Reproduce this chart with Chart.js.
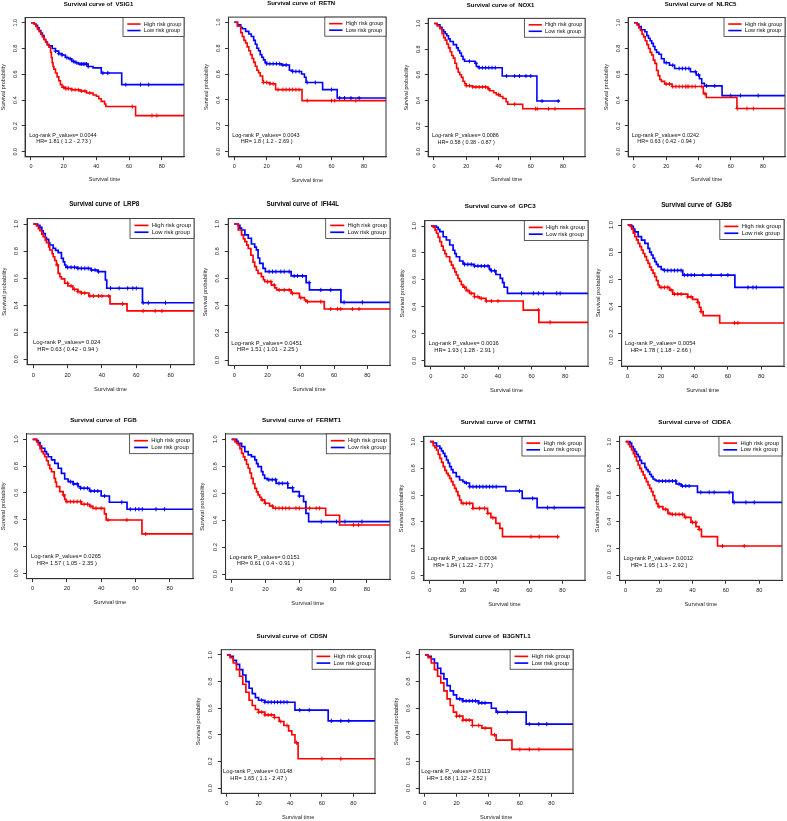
<!DOCTYPE html>
<html>
<head>
<meta charset="utf-8">
<script src="https://cdn.jsdelivr.net/npm/chart.js@4.4.1/dist/chart.umd.min.js"></script>
<style>
  body { margin: 0; background: #fff; width: 787px; height: 821px; position: relative; overflow: hidden; }
  canvas { position: absolute; }
</style>
</head>
<body>
<script>
// ---- data ----
const genes = ['VSIG1', 'RETN', 'NOX1', 'NLRC5', 'LRP8', 'IFI44L', 'GPC3', 'GJB6',
  'FGB', 'FERMT1', 'CMTM1', 'CIDEA', 'CDSN', 'B3GNTL1'];
const pValues = [0.0044, 0.0043, 0.0086, 0.0242, 0.024, 0.0451, 0.0016, 0.0054,
  0.0265, 0.0151, 0.0034, 0.0012, 0.0148, 0.0113];
const hazardRatio = [1.81, 1.8, 0.58, 0.63, 0.63, 1.51, 1.93, 1.78, 1.57, 0.61, 1.84, 1.95, 1.65, 1.68];
const hrLower = [1.2, 1.2, 0.38, 0.42, 0.42, 1.01, 1.28, 1.18, 1.05, 0.4, 1.22, 1.3, 1.1, 1.12];
const hrUpper = [2.73, 2.69, 0.87, 0.94, 0.94, 2.25, 2.91, 2.66, 2.35, 0.91, 2.77, 2.92, 2.47, 2.52];
const groupLabels = ['High risk group', 'Low risk group'];
const xTicks = [0, 20, 40, 60, 80];
const yTicks = [0, 0.2, 0.4, 0.6, 0.8, 1.0];

// Kaplan-Meier steps, [time, survival after that time]
const highRisk = [
  [[0,1],[2,0.99],[3,0.97],[4,0.95],[5,0.93],[6,0.91],[7,0.89],[8,0.87],[9,0.85],[10,0.83],[11,0.81],[12,0.77],[12.5,0.73],[13,0.69],[13.5,0.66],[14,0.64],[15,0.61],[16,0.58],[17,0.55],[18,0.52],[19,0.5],[21,0.49],[25,0.48],[30,0.47],[34,0.455],[38,0.44],[40,0.43],[41.5,0.41],[43,0.39],[45,0.37],[45.8,0.35],[64,0.28],[93.6,0.28]],
  [[0,1],[2,0.97],[4,0.92],[5,0.89],[6,0.86],[7,0.84],[8,0.81],[9,0.78],[10,0.75],[11,0.72],[12,0.69],[13,0.66],[14,0.63],[15,0.61],[16,0.585],[17.5,0.55],[18,0.535],[22,0.525],[25.5,0.48],[41.8,0.395],[93.6,0.395]],
  [[0,1],[2,0.98],[3.7,0.96],[5,0.92],[6,0.89],[7,0.87],[8,0.84],[9,0.81],[10,0.78],[11,0.75],[12,0.73],[13,0.69],[14,0.65],[15,0.62],[16,0.6],[17,0.58],[18,0.55],[19,0.53],[20,0.515],[24,0.505],[33.5,0.49],[34.5,0.475],[37,0.46],[38.6,0.445],[41,0.43],[42.7,0.415],[44.7,0.39],[45.7,0.37],[55,0.335],[93.6,0.335]],
  [[0,1],[2,0.98],[3,0.96],[4,0.94],[5,0.91],[6,0.89],[7,0.86],[8,0.83],[9,0.8],[10,0.77],[11,0.75],[12,0.71],[13,0.685],[14,0.63],[15,0.59],[16,0.56],[17,0.545],[19,0.525],[23.6,0.505],[43,0.45],[44.8,0.42],[63.8,0.335],[93.6,0.335]],
  [[0,1],[1.9,0.985],[3,0.965],[3.9,0.95],[5,0.925],[5.8,0.906],[7,0.88],[7.7,0.862],[9,0.83],[9.6,0.808],[11,0.78],[11.6,0.758],[12.5,0.73],[13.5,0.697],[14.5,0.635],[15.5,0.61],[16.4,0.594],[18.3,0.562],[20.2,0.542],[23.1,0.517],[26,0.5],[28,0.49],[32.4,0.468],[44.7,0.41],[54.6,0.358],[93.6,0.358]],
  [[0,1],[2.4,0.956],[4.4,0.92],[5.5,0.89],[6.4,0.87],[7.5,0.845],[8.4,0.82],[10,0.77],[11.3,0.72],[12.3,0.686],[13.3,0.66],[14.3,0.637],[16.3,0.613],[17.5,0.59],[18.3,0.576],[22.3,0.551],[24.3,0.53],[25.5,0.515],[34.2,0.49],[39.2,0.458],[42.2,0.441],[43.2,0.429],[54.1,0.375],[93.6,0.375]],
  [[0,1],[1.4,0.99],[2.5,0.97],[3.3,0.946],[4.3,0.915],[5.3,0.884],[6.3,0.85],[7.3,0.82],[8.3,0.795],[9.2,0.772],[11.2,0.735],[12.2,0.71],[13.2,0.686],[14.2,0.66],[15.1,0.636],[16.1,0.61],[17.1,0.59],[18.1,0.565],[19.1,0.545],[21,0.52],[23,0.5],[25.9,0.475],[28.9,0.463],[32.8,0.443],[55,0.376],[64.3,0.285],[93.6,0.285]],
  [[0,1],[1.5,0.99],[2.4,0.97],[3.4,0.94],[4.3,0.914],[5.3,0.89],[6.3,0.865],[7.3,0.84],[8.3,0.816],[9.3,0.79],[10.3,0.767],[11.3,0.74],[12.2,0.717],[13.2,0.69],[14.2,0.668],[15.2,0.645],[16.2,0.619],[17.2,0.59],[18.2,0.558],[19,0.54],[25.1,0.52],[27,0.491],[36,0.47],[38.9,0.452],[41.9,0.43],[42.9,0.393],[43.9,0.361],[45.2,0.332],[55.1,0.278],[93.6,0.278]],
  [[0,1],[2.3,0.98],[3.3,0.958],[4.3,0.93],[5.2,0.908],[6.2,0.89],[7.1,0.87],[8.1,0.84],[9.1,0.808],[10,0.78],[11,0.758],[12.6,0.709],[13.3,0.68],[13.9,0.647],[15.8,0.609],[17.8,0.585],[18.7,0.552],[19.5,0.535],[28.4,0.515],[33.2,0.5],[35.2,0.485],[41.9,0.443],[42.9,0.398],[63.8,0.294],[93.6,0.294]],
  [[0,1],[2,0.98],[3,0.97],[3.9,0.958],[4.9,0.93],[5.9,0.896],[6.9,0.87],[7.8,0.847],[8.8,0.815],[9.8,0.785],[10.8,0.75],[11.7,0.71],[12.7,0.67],[13.7,0.636],[14.7,0.61],[15.6,0.587],[16.6,0.57],[17.6,0.55],[19.5,0.525],[22.4,0.505],[24.4,0.488],[55.6,0.436],[63.8,0.364],[93.6,0.364]],
  [[0,1],[2,0.97],[3,0.955],[4,0.9375],[5,0.905],[6,0.875],[7,0.845],[8,0.8125],[9,0.785],[10,0.7625],[11,0.745],[11.9,0.725],[12.9,0.7],[13.9,0.675],[14.9,0.65],[15.9,0.625],[16.9,0.595],[17.9,0.5625],[18.9,0.5375],[25.9,0.5],[34.8,0.4625],[36.8,0.43],[39.8,0.3875],[42.2,0.35],[43.8,0.2875],[78,0.2875]],
  [[0,1],[1.6,0.98],[2.6,0.96],[3.6,0.9375],[4.6,0.91],[5.5,0.8875],[6.5,0.855],[7.5,0.825],[8.5,0.8],[9.5,0.775],[10.5,0.75],[11.5,0.725],[12.4,0.7],[13.4,0.675],[14.4,0.65],[15.4,0.625],[16.4,0.595],[17.4,0.5625],[18.4,0.535],[19.4,0.5125],[22.3,0.4925],[25.3,0.4625],[27,0.455],[35.2,0.4325],[39.1,0.395],[42.1,0.3625],[44,0.3425],[45.4,0.2875],[55,0.2175],[93.6,0.2175]],
  [[0,1],[2,0.98],[4,0.94],[6,0.89],[8,0.84],[10,0.78],[12,0.72],[14,0.66],[16,0.62],[18,0.59],[20,0.57],[24,0.55],[30,0.53],[33,0.5],[36,0.47],[39,0.43],[41,0.4],[43,0.34],[45,0.22],[93.6,0.22]],
  [[0,1],[2,0.98],[4,0.94],[6,0.89],[8,0.84],[10,0.79],[12,0.73],[14,0.67],[16,0.62],[18,0.57],[20,0.54],[24,0.51],[30,0.47],[36,0.45],[42,0.4],[45,0.36],[55,0.29],[93.6,0.29]]
];
const lowRisk = [
  [[0,1],[2,0.99],[3,0.98],[4,0.96],[5,0.94],[6,0.92],[7,0.9],[8,0.87],[9,0.85],[10,0.83],[11,0.82],[13,0.8],[15,0.78],[17,0.76],[19,0.75],[21,0.73],[23,0.72],[25,0.7],[27,0.69],[29,0.68],[35,0.66],[38,0.65],[43,0.61],[55.5,0.52],[93.6,0.52]],
  [[0,1],[2,0.98],[4,0.96],[5,0.95],[7,0.93],[9,0.91],[10.5,0.89],[12,0.86],[13,0.83],[14,0.8],[15,0.78],[16,0.75],[17,0.73],[18,0.71],[19,0.69],[20,0.68],[29,0.67],[34,0.63],[36,0.62],[41.5,0.6],[43.3,0.575],[44.3,0.535],[54.5,0.48],[63.5,0.415],[93.6,0.415]],
  [[0,1],[2,0.99],[3.7,0.97],[5,0.95],[6,0.935],[7,0.92],[8,0.905],[9,0.88],[10,0.86],[12,0.835],[14,0.81],[15,0.79],[16,0.77],[17,0.745],[18,0.72],[19,0.705],[25.5,0.69],[26.3,0.665],[28,0.655],[42.3,0.59],[63.8,0.395],[78,0.395]],
  [[0,1],[2,0.99],[3,0.97],[4.5,0.945],[6.8,0.93],[8,0.9],[9,0.88],[10,0.86],[11,0.84],[12,0.815],[13,0.79],[14,0.77],[15.5,0.755],[17,0.72],[18.7,0.69],[22,0.67],[25.2,0.645],[35,0.62],[38.6,0.595],[40.6,0.565],[42,0.53],[43.7,0.51],[54.6,0.435],[93.6,0.435]],
  [[0,1],[2.5,0.99],[3.9,0.975],[5,0.95],[5.8,0.93],[7,0.9],[7.7,0.887],[9,0.86],[9.6,0.845],[11.6,0.82],[13,0.805],[14.5,0.788],[16.4,0.746],[17.5,0.72],[18.3,0.697],[19,0.68],[26,0.672],[33.7,0.66],[37.6,0.648],[42,0.586],[42.8,0.525],[63.6,0.418],[93.6,0.418]],
  [[0,1],[2.4,0.99],[3.4,0.97],[4.4,0.956],[6.4,0.92],[8.4,0.895],[10.3,0.853],[12.3,0.83],[13.3,0.81],[14.3,0.75],[15.3,0.71],[17.3,0.674],[18.7,0.65],[34.2,0.618],[43.2,0.569],[45.2,0.515],[64.1,0.424],[93.6,0.424]],
  [[0,1],[3.3,0.99],[4.3,0.975],[5.3,0.958],[7.3,0.92],[9.2,0.896],[11.2,0.859],[13.2,0.82],[14.2,0.795],[15.1,0.772],[17.1,0.74],[19.1,0.723],[20,0.715],[25.9,0.703],[34.8,0.68],[35.8,0.668],[38.7,0.64],[41.3,0.611],[42.7,0.579],[43.6,0.545],[45.6,0.5],[93.6,0.5]],
  [[0,1],[2.4,0.99],[3.4,0.97],[4.3,0.95],[6.3,0.914],[8.3,0.889],[10.3,0.865],[12.2,0.828],[13.2,0.8],[14.2,0.779],[15.2,0.755],[16.2,0.73],[17.2,0.71],[18.2,0.693],[20.1,0.673],[22,0.665],[33,0.631],[64.2,0.54],[93.6,0.54]],
  [[0,1],[2.3,0.99],[3.3,0.975],[4.3,0.95],[5.2,0.933],[7.1,0.908],[8.1,0.89],[9.1,0.87],[11,0.846],[12.9,0.82],[14.9,0.784],[16.8,0.746],[18.7,0.704],[20.7,0.684],[23.6,0.667],[26.5,0.647],[28,0.635],[33.2,0.614],[40,0.577],[44.8,0.53],[55.1,0.478],[93.6,0.478]],
  [[0,1],[3,0.985],[3.9,0.97],[5.9,0.946],[7.8,0.908],[9.8,0.884],[11.7,0.871],[13.7,0.847],[14.7,0.82],[15.6,0.797],[17.6,0.76],[18.5,0.735],[19.5,0.71],[21,0.7],[26.3,0.673],[33.2,0.64],[36.1,0.611],[40,0.579],[42.5,0.537],[43.9,0.45],[45.5,0.389],[93.6,0.389]],
  [[0,1],[2,0.99],[4,0.968],[6,0.95],[7,0.93],[8,0.9125],[9,0.89],[10,0.8625],[11,0.84],[11.9,0.8125],[12.9,0.79],[13.9,0.7675],[15.9,0.7375],[17.9,0.7125],[19.9,0.7],[21,0.69],[23.9,0.6625],[45.8,0.63],[55.7,0.575],[64.7,0.505],[93.6,0.505]],
  [[0,1],[2.6,0.99],[3.6,0.9625],[4.6,0.945],[5.5,0.925],[6.5,0.905],[7.5,0.8875],[8.5,0.86],[9.5,0.8375],[11.5,0.8075],[12.4,0.79],[13.4,0.775],[14.4,0.755],[15.4,0.7375],[16.4,0.72],[17.4,0.7125],[18.4,0.705],[30.2,0.6825],[33.2,0.6675],[43,0.62],[64.2,0.545],[93.6,0.545]],
  [[0,1],[2,0.99],[4,0.96],[6,0.93],[8,0.89],[10,0.85],[12,0.8],[14,0.75],[16,0.71],[18,0.68],[20,0.66],[24,0.645],[43,0.585],[64,0.505],[93.6,0.505]],
  [[0,1],[2,0.99],[4,0.97],[6,0.94],[8,0.9],[10,0.86],[12,0.82],[14,0.77],[16,0.73],[18,0.7],[20,0.67],[24,0.655],[34,0.64],[42,0.6],[45,0.57],[64,0.48],[93.6,0.48]]
];
// censoring times (the "+" marks)
const highCensor = [
  [20,21,22,23,25,27,29,31,33,36,62,74,77],
  [18,20,22,24,27,30,32,34,36,38,40,45,60,62,75],
  [20,22,24,26,28,30,32,34,40,50,63,64,71,75],
  [20,22,24,26,28,30,32,33,34,36,38,42,44,64,70,74],
  [14,20,22,24,26,28,30,33,35,38,40,44,52,64,71,75],
  [20,22,24,27,30,33,35,40,44,52,58,62,64,71,75],
  [20,22,24,26,28,30,33,36,40,64,71],
  [20,22,24,26,28,30,32,36,38,42,44,64,66],
  [18,20,22,24,26,28,30,32,34,37,40,44,55,66],
  [18,20,24,26,28,30,32,34,38,40,44,46,50,52,72,75],
  [20,22,24,26,30,33,35,38,61,66,77],
  [20,24,26,28,30,32,34,36,40,42,44,58,71],
  [20,22,24,26,28,30,34,38,44,60,72],
  [20,22,24,26,28,30,34,38,44,60,66,72]
];
const lowCensor = [
  [15,17,19,22,24,26,28,30,31,32,33,34,35,44,47,58,67,72],
  [20,22,24,26,28,30,32,36,38,40,45,50,60,65,68,72,77],
  [22,26,28,30,32,34,36,38,45,50,53,57,60,67,77],
  [20,24,28,30,32,34,38,40,45,50,60,66,77],
  [20,22,24,26,28,30,32,34,36,38,45,50,55,58,60,64,67,77],
  [21,23,25,28,30,33,36,38,41,45,52,58,66,77],
  [20,22,24,26,28,30,32,34,36,38,54,61,64,67,75,77],
  [22,24,26,28,30,32,34,36,38,40,45,50,56,60,72,75,77],
  [22,24,26,28,30,32,34,36,38,42,52,57,60,62,64,72,77],
  [22,24,26,28,30,33,36,40,53,62,67,77],
  [22,24,26,28,30,32,34,36,38,40,54,62,71,75],
  [20,22,24,26,28,30,32,34,36,38,45,50,53,62,65,72,77],
  [22,24,26,28,30,32,34,36,38,46,52,66,72,77],
  [22,24,26,28,30,32,34,36,38,46,52,66,72,77]
];

// ---- layout: pixel of x=0, x=80, y=1.0, y=0.0 for each panel ----
const frames = [
  [31, 162.7, 22.7, 151.7], [234.3, 365, 22.3, 151.7], [434, 564, 23.5, 151.7], [634, 764, 22.7, 151.7],
  [33.3, 171.7, 224, 359.3], [234.3, 368.3, 224, 360], [431, 566.7, 226, 360.7], [627.7, 762.7, 225, 360.7],
  [32.7, 170.7, 439.3, 573.3], [231.7, 368.3, 439.3, 574], [430, 564, 441.7, 575], [625.7, 760.7, 441.7, 575],
  [227, 355, 655, 788], [425, 553, 655, 788]
];
const X_MIN = -3.6, X_MAX = 93.6, Y_MIN = -0.04, Y_MAX = 1.04;
const RED = '#ff0000', BLUE = '#0000ff', INK = '#333333';
const FONT = "'Liberation Sans', Arial, Helvetica, sans-serif";

Chart.defaults.font.family = FONT;
Chart.defaults.color = '#222';

function survivalAt(curve, t) {
  let s = curve[0][1];
  for (const [ti, si] of curve) {
    if (ti <= t) s = si; else break;
  }
  return s;
}

const kmDecor = {
  id: 'kmDecor',
  afterDatasetsDraw(chart, args, opts) {
    const { ctx, chartArea: a, scales: { x, y } } = chart;
    const k = opts.k;
    ctx.save();
    // plot frame
    ctx.strokeStyle = INK;
    ctx.lineWidth = 1;
    ctx.strokeRect(a.left, a.top, a.right - a.left, a.bottom - a.top);

    // title
    ctx.fillStyle = '#000';
    ctx.font = `bold ${6 * k}px ${FONT}`;
    ctx.textAlign = 'center';
    ctx.textBaseline = 'middle';
    ctx.fillText(opts.title, (a.left + a.right) / 2 - 6 * k, a.top - 13.3 * k);

    // legend box top right
    const w = 61 * k, h = 19 * k;
    const lx = a.right - w, ly = a.top;
    ctx.fillStyle = '#fff';
    ctx.fillRect(lx, ly, w, h);
    ctx.lineWidth = 0.8;
    ctx.strokeRect(lx, ly, w, h);
    ctx.font = `${5.6 * k}px ${FONT}`;
    ctx.textAlign = 'left';
    chart.data.datasets.filter(d => !d.censor).forEach((d, i) => {
      const ry = ly + (6.5 + 6.5 * i) * k;
      ctx.strokeStyle = d.borderColor;
      ctx.lineWidth = 1.6 * k;
      ctx.beginPath();
      ctx.moveTo(lx + 4.3 * k, ry);
      ctx.lineTo(lx + 17.6 * k, ry);
      ctx.stroke();
      ctx.fillStyle = '#111';
      ctx.fillText(d.label, lx + 20.8 * k, ry);
    });

    // log-rank text
    ctx.font = `${5.5 * k}px ${FONT}`;
    ctx.textAlign = 'center';
    ctx.fillStyle = '#111';
    const cx = x.getPixelForValue(19.5);
    const cy = y.getPixelForValue(0.125);
    opts.stats.forEach((line, i) => ctx.fillText(line, cx, cy + i * 6.4 * k));
    ctx.restore();
  }
};

function makePanel(i) {
  const [x0, x80, y1, y0] = frames[i];
  const k = (y0 - y1) / 129;
  const ux = (x80 - x0) / 80, uy = y0 - y1;
  const boxL = x0 + X_MIN * ux, boxR = x0 + X_MAX * ux;
  const boxT = y1 - (Y_MAX - 1) * uy, boxB = y0 - Y_MIN * uy;
  const left = Math.floor(boxL - 31 * k), top = Math.floor(boxT - 20 * k);
  const right = Math.ceil(boxR + 3), bottom = Math.ceil(boxB + 31 * k);

  const cv = document.createElement('canvas');
  cv.width = right - left;
  cv.height = bottom - top;
  cv.style.left = left + 'px';
  cv.style.top = top + 'px';
  document.body.appendChild(cv);

  const yAxisW = boxL - left, xAxisH = bottom - boxB;
  const fs = 5.5 * k, lh = fs * 1.2;
  const tick = 3.3 * k;

  const curveSet = (curve, color, label) => ({
    label,
    data: curve.map(([t, s]) => ({ x: t, y: s })),
    borderColor: color,
    borderWidth: 1.6 * k,
    stepped: 'before',
    pointRadius: 0,
    fill: false
  });
  const censorSet = (curve, times, color) => ({
    censor: true,
    data: times.map(t => ({ x: t, y: survivalAt(curve, t) })),
    showLine: false,
    pointStyle: 'cross',
    pointRadius: 2 * k,
    pointBorderWidth: 1,
    pointBorderColor: color,
    borderColor: color
  });

  const noPad = s => { s.paddingTop = 0; s.paddingBottom = 0; s.paddingLeft = 0; s.paddingRight = 0; };

  new Chart(cv, {
    type: 'line',
    data: {
      datasets: [
        curveSet(highRisk[i], RED, groupLabels[0]),
        curveSet(lowRisk[i], BLUE, groupLabels[1]),
        censorSet(highRisk[i], highCensor[i], RED),
        censorSet(lowRisk[i], lowCensor[i], BLUE)
      ]
    },
    options: {
      responsive: false,
      animation: false,
      devicePixelRatio: 1,
      events: [],
      layout: { padding: { left: 0, top: boxT - top, right: right - boxR, bottom: 0 } },
      plugins: {
        legend: { display: false },
        tooltip: { enabled: false },
        kmDecor: {
          k,
          title: 'Survival curve of  ' + genes[i],
          stats: [
            'Log-rank P_values= ' + pValues[i],
            ' HR= ' + hazardRatio[i] + ' ( ' + hrLower[i] + ' - ' + hrUpper[i] + ' )'
          ]
        }
      },
      scales: {
        x: {
          type: 'linear',
          min: X_MIN,
          max: X_MAX,
          afterBuildTicks: s => { s.ticks = xTicks.map(v => ({ value: v })); },
          afterFit: s => { s.height = xAxisH; noPad(s); },
          ticks: { autoSkip: false, maxRotation: 0, padding: 3.2 * k, font: { size: fs }, color: '#222',
                   callback: v => String(v) },
          grid: { drawOnChartArea: false, tickLength: tick, color: INK },
          border: { display: true, color: INK, width: 1 },
          title: { display: true, text: 'Survival time', font: { size: fs }, color: '#222',
                   padding: { top: 0, bottom: xAxisH - 23.1 * k - lh / 2 } }
        },
        y: {
          type: 'linear',
          min: Y_MIN,
          max: Y_MAX,
          afterBuildTicks: s => { s.ticks = yTicks.map(v => ({ value: v })); },
          afterFit: s => { s.width = yAxisW; noPad(s); },
          ticks: { autoSkip: false, minRotation: 90, maxRotation: 90, crossAlign: 'center',
                   padding: 2.9 * k, font: { size: fs }, color: '#222',
                   callback: v => v.toFixed(1) },
          grid: { drawOnChartArea: false, tickLength: tick, color: INK },
          border: { display: true, color: INK, width: 1 },
          title: { display: true, text: 'Survival probability', font: { size: fs }, color: '#222',
                   padding: { top: yAxisW - 21.8 * k - lh / 2, bottom: 0 } }
        }
      }
    },
    plugins: [kmDecor]
  });
}

genes.forEach((g, i) => makePanel(i));
</script>
</body>
</html>
